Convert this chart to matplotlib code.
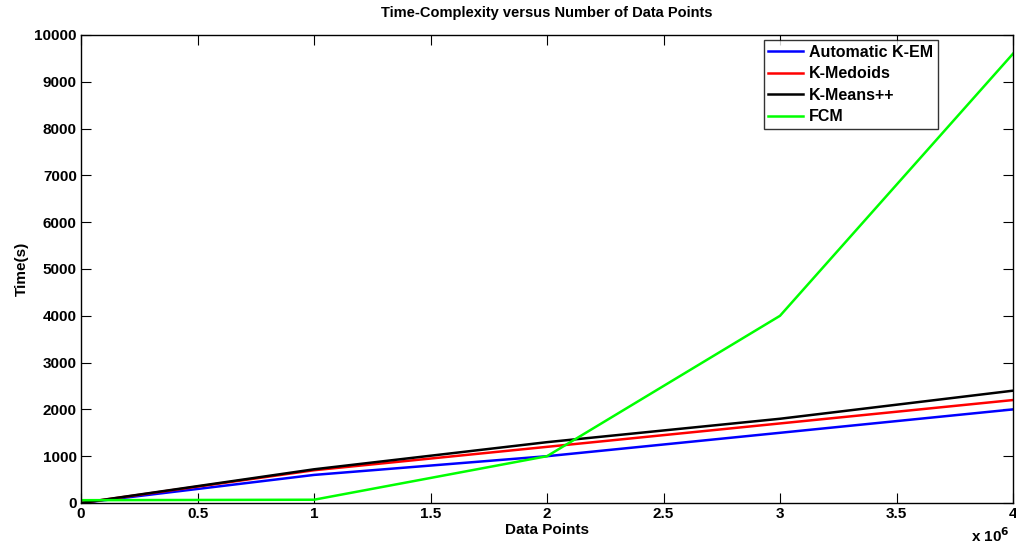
import matplotlib
matplotlib.use("Agg")
import matplotlib.pyplot as plt
from matplotlib.ticker import FuncFormatter, MultipleLocator

plt.rcParams['font.family'] = ['Liberation Sans', 'DejaVu Sans']
plt.rcParams['font.weight'] = 'bold'

x_points = [0, 1e6, 2e6, 3e6, 4e6]
series_names = ["Automatic K-EM", "K-Medoids", "K-Means++", "FCM"]
kem = [0, 600, 1000, 1500, 2000]
kmedoids = [0, 700, 1200, 1700, 2200]
kmeanspp = [0, 720, 1300, 1800, 2400]
fcm = [60, 70, 1000, 4000, 9600]
colors = ["#0000ff", "#ff0000", "#000000", "#00ff00"]

fig = plt.figure(figsize=(10.16, 5.51), dpi=100)
ax = fig.add_axes([81/1016, 1 - 503/551, (1013-81)/1016, (503-35)/551])

for name, ys, c in zip(series_names, [kem, kmedoids, kmeanspp, fcm], colors):
    ax.plot(x_points, ys, color=c, lw=1.8, label=name)

ax.set_xlim(0, 4e6)
ax.set_ylim(0, 10000)
ax.xaxis.set_major_locator(MultipleLocator(0.5e6))
ax.yaxis.set_major_locator(MultipleLocator(1000))
ax.xaxis.set_major_formatter(FuncFormatter(lambda v, p: f"{v/1e6:g}"))
ax.tick_params(direction='in', top=True, right=True, length=7, width=0.8,
               labelsize=11, pad=3)
for lab in ax.get_xticklabels() + ax.get_yticklabels():
    lab.set_fontweight('bold')
for s in ax.spines.values():
    s.set_linewidth(1.0)

ax.set_xlabel("Data Points", fontsize=11, fontweight='bold', labelpad=1)
ax.set_ylabel("Time(s)", fontsize=11, fontweight='bold', labelpad=4)
ax.set_title("Time-Complexity versus Number of Data Points", fontsize=10.5,
             fontweight='bold', pad=13)
fig.text(1010/1016, 1 - 545/551, r"x 10$^{6}$", ha='right', va='bottom',
         fontsize=11, fontweight='bold')

leg = ax.legend(loc='upper right', bbox_to_anchor=(0.9195, 0.989), fontsize=11.5,
                frameon=True, fancybox=False, edgecolor='black',
                handlelength=2.2, borderpad=0.3, labelspacing=0.4,
                handletextpad=0.35, borderaxespad=0)
leg.get_frame().set_linewidth(1.0)
for t in leg.get_texts():
    t.set_fontweight('bold')

fig.savefig("out.png", dpi=100)
